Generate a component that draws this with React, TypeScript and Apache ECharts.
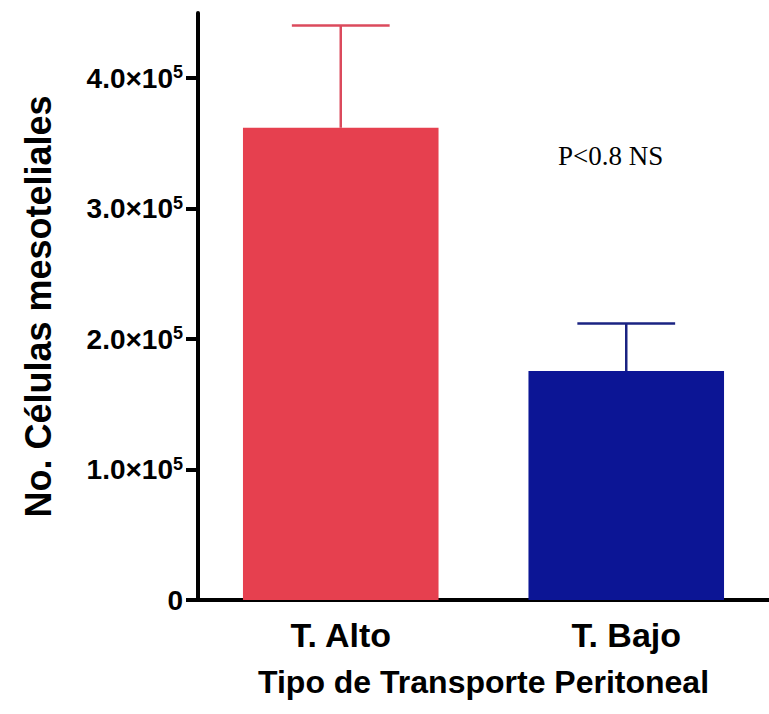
import React, { useEffect, useRef } from "react";
import * as echarts from "echarts";

const categories = ["T. Alto", "T. Bajo"];
const means = [362000, 175500];
const upperErrors = [440500, 212000];
const yTicks = [0, 100000, 200000, 300000, 400000];
const barColors = ["#e6404f", "#0c1595"];
const errColors = ["#db4a5c", "#1a2382"];
const annotation = "P<0.8 NS";
const xTitle = "Tipo de Transporte Peritoneal";
const yTitle = "No. Células mesoteliales";

const FONT = "'Liberation Sans', Arial, Helvetica, sans-serif";

export default function App() {
  const ref = useRef<HTMLDivElement>(null);
  useEffect(() => {
    if (!ref.current) return;
    const chart = echarts.init(ref.current, null, { renderer: "svg" });
    const barWidthPct = 0.685;
    chart.setOption({
      animation: false,
      backgroundColor: "#ffffff",
      grid: { left: 198, top: 13, width: 576, height: 587 },
      xAxis: {
        type: "category",
        data: categories,
        boundaryGap: true,
        name: xTitle,
        nameLocation: "middle",
        nameGap: 66,
        nameTextStyle: { fontFamily: FONT, fontWeight: "bold", fontSize: 32, color: "#000" },
        axisLine: { lineStyle: { color: "#000", width: 4 } },
        axisTick: { alignWithLabel: true, length: 16, lineStyle: { color: "#000", width: 3 } },
        axisLabel: { margin: 18, fontFamily: FONT, fontWeight: "bold", fontSize: 34, color: "#000" },
        splitLine: { show: false },
      },
      yAxis: {
        type: "value",
        min: 0,
        max: 450000,
        interval: 100000,
        name: yTitle,
        nameLocation: "middle",
        nameGap: 142,
        nameTextStyle: { fontFamily: FONT, fontWeight: "bold", fontSize: 36, color: "#000" },
        axisLine: { show: true, lineStyle: { color: "#000", width: 4 } },
        axisTick: { show: true, length: 12, customValues: yTicks, lineStyle: { color: "#000", width: 4 } },
        splitLine: { show: false },
        axisLabel: {
          margin: 15,
          customValues: yTicks,
          formatter: (v: number) => {
            if (v % 100000 !== 0) return "";
            if (v === 0) return "{n|0}";
            return `{n|${(v / 100000).toFixed(1)}×10}{s|5}`;
          },
          rich: {
            n: { fontFamily: FONT, fontWeight: "bold", fontSize: 28, color: "#000", lineHeight: 30 },
            s: { fontFamily: FONT, fontWeight: "bold", fontSize: 18, color: "#000", verticalAlign: "top", lineHeight: 30, padding: [0, 0, 12, 0] },
          },
        },
      },
      series: [
        {
          type: "bar",
          data: means.map((v, i) => ({ value: v, itemStyle: { color: barColors[i] } })),
          barWidth: `${barWidthPct * 100}%`,
        },
        {
          type: "custom",
          data: means.map((m, i) => [i, m, upperErrors[i]]),
          renderItem: (params: any, api: any) => {
            const i = api.value(0);
            const top = api.coord([i, api.value(2)]);
            const base = api.coord([i, api.value(1)]);
            const band = api.size([1, 0])[0];
            const half = (band * barWidthPct) / 4;
            const color = errColors[i];
            return {
              type: "group",
              children: [
                { type: "line", shape: { x1: top[0], y1: base[1], x2: top[0], y2: top[1] }, style: { stroke: color, lineWidth: 2.5 } },
                { type: "line", shape: { x1: top[0] - half, y1: top[1], x2: top[0] + half, y2: top[1] }, style: { stroke: color, lineWidth: 2.5 } },
              ],
            };
          },
          z: 3,
        },
      ],
      graphic: [
        {
          type: "text",
          left: 558,
          top: 142,
          style: { text: annotation, fontFamily: "'Liberation Serif', 'Times New Roman', serif", fontSize: 27, fill: "#000" },
        },
      ],
    });
    return () => chart.dispose();
  }, []);
  return (
    <div style={{ position: "absolute", left: 0, top: 0, width: 769, height: 714, background: "#fff" }}>
      <div ref={ref} style={{ width: 769, height: 714 }} />
    </div>
  );
}
